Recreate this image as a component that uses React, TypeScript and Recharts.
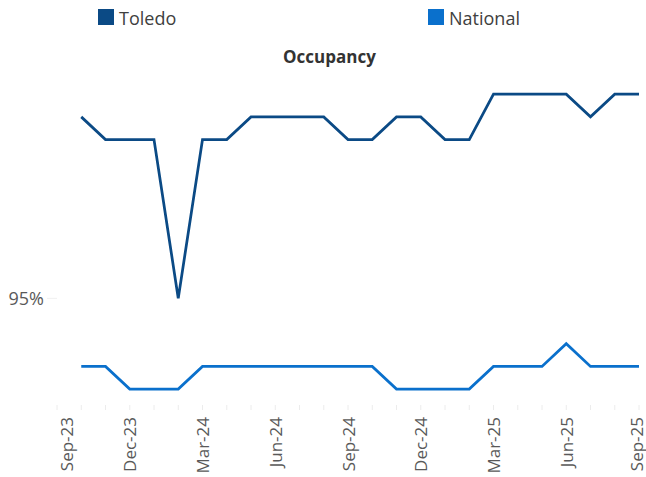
import React from 'react';
import { LineChart, Line, XAxis, YAxis } from 'recharts';

const months = [
  'Sep-23', 'Oct-23', 'Nov-23', 'Dec-23', 'Jan-24', 'Feb-24', 'Mar-24', 'Apr-24', 'May-24',
  'Jun-24', 'Jul-24', 'Aug-24', 'Sep-24', 'Oct-24', 'Nov-24', 'Dec-24', 'Jan-25', 'Feb-25',
  'Mar-25', 'Apr-25', 'May-25', 'Jun-25', 'Jul-25', 'Aug-25', 'Sep-25',
];

const toledo: (number | null)[] = [
  null, 95.8, 95.7, 95.7, 95.7, 95.0, 95.7, 95.7, 95.8, 95.8, 95.8, 95.8, 95.7,
  95.7, 95.8, 95.8, 95.7, 95.7, 95.9, 95.9, 95.9, 95.9, 95.8, 95.9, 95.9,
];

const national: (number | null)[] = [
  null, 94.7, 94.7, 94.6, 94.6, 94.6, 94.7, 94.7, 94.7, 94.7, 94.7, 94.7, 94.7,
  94.7, 94.6, 94.6, 94.6, 94.6, 94.7, 94.7, 94.7, 94.8, 94.7, 94.7, 94.7,
];

const yTicks = [95];

const series = [
  { key: 'toledo', name: 'Toledo', color: '#0B4A85', values: toledo },
  { key: 'national', name: 'National', color: '#0A70CC', values: national },
];

const data = months.map((m, i) => {
  const row: Record<string, any> = { month: m };
  series.forEach((s) => {
    row[s.key] = s.values[i];
  });
  return row;
});

const FONT = '"Open Sans", "DejaVu Sans", sans-serif';

const XTick = (props: any) => {
  const { x, y, payload } = props;
  const i = payload?.index ?? props.index ?? 0;
  const cx = Math.min(Math.max(x, 66), 636);
  return (
    <g>
      <line x1={x} x2={x} y1={y} y2={y + 5} stroke="#ececec" strokeWidth={1} />
      {i % 3 === 0 && (
        <text
          transform={`translate(${cx},${y + 12}) rotate(-90)`}
          textAnchor="end"
          dominantBaseline="central"
          fill="#595959"
          fontSize={17}
          fontFamily={FONT}
        >
          {payload.value}
        </text>
      )}
    </g>
  );
};

const legendX = [98, 428];

export default function App() {
  return (
    <div style={{ position: 'absolute', left: 0, top: 0, width: 646, height: 477, background: '#fff', fontFamily: FONT }}>
      <LineChart
        width={646}
        height={477}
        data={data}
        margin={{ top: 71.5, right: 7, left: 0, bottom: 0 }}
      >
        <XAxis
          dataKey="month"
          scale="point"
          padding={{ left: 0, right: 0 }}
          axisLine={false}
          tickLine={false}
          tickSize={0}
          tickMargin={0}
          interval={0}
          height={72}
          tick={<XTick />}
        />
        <YAxis
          type="number"
          domain={[94.53, 96]}
          ticks={yTicks}
          allowDataOverflow
          width={57}
          axisLine={false}
          tickLine={{ stroke: '#f0f0f0' }}
          tickSize={10}
          tickMargin={3}
          tickFormatter={(v: number) => `${v}%`}
          tick={{ fill: '#595959', fontSize: 18, fontFamily: FONT }}
        />
        {series.map((s) => (
          <Line
            key={s.key}
            type="linear"
            dataKey={s.key}
            name={s.name}
            stroke={s.color}
            strokeWidth={2.75}
            dot={false}
            activeDot={false}
            isAnimationActive={false}
          />
        ))}
      </LineChart>
      <svg
        width={646}
        height={70}
        style={{ position: 'absolute', left: 0, top: 0, pointerEvents: 'none' }}
      >
        {series.map((s, i) => (
          <g key={s.key}>
            <rect x={legendX[i]} y={9} width={16} height={16} fill={s.color} />
            <text x={legendX[i] + 21} y={25} fontSize={18} fill="#404040" fontFamily={FONT}>
              {s.name}
            </text>
          </g>
        ))}
        <text x={329.5} y={63} textAnchor="middle" fontSize={17} fontWeight={700} fill="#333333" fontFamily={FONT}>
          Occupancy
        </text>
      </svg>
    </div>
  );
}
